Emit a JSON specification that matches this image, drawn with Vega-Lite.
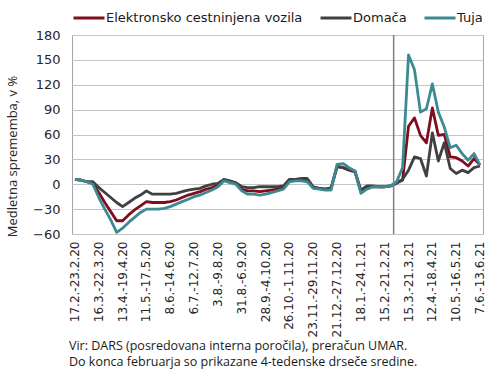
{
  "$schema": "https://vega.github.io/schema/vega-lite/v6.json",
  "width": 411,
  "height": 199,
  "autosize": {"type": "none"},
  "padding": {"left": 72, "top": 35, "right": 7, "bottom": 145},
  "config": {
    "font": "DejaVu Sans",
    "view": {"stroke": "#a6a6a6", "strokeWidth": 1},
    "axis": {"labelColor": "#262626", "titleColor": "#262626", "grid": true, "gridColor": "#c4c4c4", "domain": false, "ticks": false}
  },
  "title": {
    "text": ["Vir: DARS (posredovana interna poročila), preračun UMAR.", "Do konca februarja so prikazane 4-tedenske drseče sredine."],
    "orient": "bottom",
    "anchor": "start",
    "frame": "group",
    "font": "Open Sans",
    "fontSize": 12.5,
    "fontWeight": "normal",
    "color": "#1a1a1a",
    "lineHeight": 16.5,
    "offset": 3,
    "dx": -3
  },
  "data": {"name": "tedni"},
  "datasets": {
    "tedni": [
      {"teden": "17.2.-23.2.20", "Elektronsko cestninjena vozila": 6, "Domača": 6, "Tuja": 6},
      {"teden": "24.2.-1.3.20", "Elektronsko cestninjena vozila": 5, "Domača": 5, "Tuja": 5},
      {"teden": "2.3.-8.3.20", "Elektronsko cestninjena vozila": 3, "Domača": 3, "Tuja": 3},
      {"teden": "9.3.-15.3.20", "Elektronsko cestninjena vozila": 1, "Domača": 3, "Tuja": 0},
      {"teden": "16.3.-22.3.20", "Elektronsko cestninjena vozila": -10, "Domača": -4, "Tuja": -16},
      {"teden": "23.3.-29.3.20", "Elektronsko cestninjena vozila": -22, "Domača": -10, "Tuja": -30},
      {"teden": "30.3.-5.4.20", "Elektronsko cestninjena vozila": -33, "Domača": -16, "Tuja": -43},
      {"teden": "6.4.-12.4.20", "Elektronsko cestninjena vozila": -44, "Domača": -22, "Tuja": -58},
      {"teden": "13.4.-19.4.20", "Elektronsko cestninjena vozila": -44, "Domača": -27, "Tuja": -53},
      {"teden": "20.4.-26.4.20", "Elektronsko cestninjena vozila": -37, "Domača": -22, "Tuja": -46},
      {"teden": "27.4.-3.5.20", "Elektronsko cestninjena vozila": -31, "Domača": -17, "Tuja": -40},
      {"teden": "4.5.-10.5.20", "Elektronsko cestninjena vozila": -26, "Domača": -13, "Tuja": -34},
      {"teden": "11.5.-17.5.20", "Elektronsko cestninjena vozila": -21, "Domača": -8, "Tuja": -30},
      {"teden": "18.5.-24.5.20", "Elektronsko cestninjena vozila": -22, "Domača": -12, "Tuja": -30},
      {"teden": "25.5.-31.5.20", "Elektronsko cestninjena vozila": -22, "Domača": -12, "Tuja": -30},
      {"teden": "1.6.-7.6.20", "Elektronsko cestninjena vozila": -22, "Domača": -12, "Tuja": -29},
      {"teden": "8.6.-14.6.20", "Elektronsko cestninjena vozila": -21, "Domača": -12, "Tuja": -27},
      {"teden": "15.6.-21.6.20", "Elektronsko cestninjena vozila": -19, "Domača": -11, "Tuja": -24},
      {"teden": "22.6.-28.6.20", "Elektronsko cestninjena vozila": -16, "Domača": -9, "Tuja": -21},
      {"teden": "29.6.-5.7.20", "Elektronsko cestninjena vozila": -13, "Domača": -7, "Tuja": -18},
      {"teden": "6.7.-12.7.20", "Elektronsko cestninjena vozila": -11, "Domača": -6, "Tuja": -15},
      {"teden": "13.7.-19.7.20", "Elektronsko cestninjena vozila": -9, "Domača": -5, "Tuja": -13},
      {"teden": "20.7.-26.7.20", "Elektronsko cestninjena vozila": -6, "Domača": -2, "Tuja": -10},
      {"teden": "27.7.-2.8.20", "Elektronsko cestninjena vozila": -4, "Domača": 0, "Tuja": -7},
      {"teden": "3.8.-9.8.20", "Elektronsko cestninjena vozila": -1, "Domača": 1, "Tuja": -3},
      {"teden": "10.8.-16.8.20", "Elektronsko cestninjena vozila": 5, "Domača": 6, "Tuja": 4},
      {"teden": "17.8.-23.8.20", "Elektronsko cestninjena vozila": 3, "Domača": 4, "Tuja": 2},
      {"teden": "24.8.-30.8.20", "Elektronsko cestninjena vozila": 1, "Domača": 2, "Tuja": 0},
      {"teden": "31.8.-6.9.20", "Elektronsko cestninjena vozila": -6, "Domača": -3, "Tuja": -8},
      {"teden": "7.9.-13.9.20", "Elektronsko cestninjena vozila": -8, "Domača": -4, "Tuja": -12},
      {"teden": "14.9.-20.9.20", "Elektronsko cestninjena vozila": -8, "Domača": -4, "Tuja": -12},
      {"teden": "21.9.-27.9.20", "Elektronsko cestninjena vozila": -9, "Domača": -3, "Tuja": -13},
      {"teden": "28.9.-4.10.20", "Elektronsko cestninjena vozila": -8, "Domača": -3, "Tuja": -12},
      {"teden": "5.10.-11.10.20", "Elektronsko cestninjena vozila": -7, "Domača": -3, "Tuja": -10},
      {"teden": "12.10.-18.10.20", "Elektronsko cestninjena vozila": -6, "Domača": -3, "Tuja": -8},
      {"teden": "19.10.-25.10.20", "Elektronsko cestninjena vozila": -4, "Domača": -2, "Tuja": -6},
      {"teden": "26.10.-1.11.20", "Elektronsko cestninjena vozila": 5, "Domača": 6, "Tuja": 3},
      {"teden": "2.11.-8.11.20", "Elektronsko cestninjena vozila": 5, "Domača": 6, "Tuja": 4},
      {"teden": "9.11.-15.11.20", "Elektronsko cestninjena vozila": 6, "Domača": 7, "Tuja": 4},
      {"teden": "16.11.-22.11.20", "Elektronsko cestninjena vozila": 5, "Domača": 7, "Tuja": 3},
      {"teden": "23.11.-29.11.20", "Elektronsko cestninjena vozila": -4, "Domača": -3, "Tuja": -5},
      {"teden": "30.11.-6.12.20", "Elektronsko cestninjena vozila": -5, "Domača": -5, "Tuja": -6},
      {"teden": "7.12.-13.12.20", "Elektronsko cestninjena vozila": -6, "Domača": -6, "Tuja": -7},
      {"teden": "14.12.-20.12.20", "Elektronsko cestninjena vozila": -5, "Domača": -4, "Tuja": -7},
      {"teden": "21.12.-27.12.20", "Elektronsko cestninjena vozila": 21, "Domača": 22, "Tuja": 24},
      {"teden": "28.12.-3.1.21", "Elektronsko cestninjena vozila": 20, "Domača": 20, "Tuja": 25},
      {"teden": "4.1.-10.1.21", "Elektronsko cestninjena vozila": 17, "Domača": 18, "Tuja": 20},
      {"teden": "11.1.-17.1.21", "Elektronsko cestninjena vozila": 15, "Domača": 16, "Tuja": 16},
      {"teden": "18.1.-24.1.21", "Elektronsko cestninjena vozila": -9, "Domača": -7, "Tuja": -11},
      {"teden": "25.1.-31.1.21", "Elektronsko cestninjena vozila": -4, "Domača": -2, "Tuja": -6},
      {"teden": "1.2.-7.2.21", "Elektronsko cestninjena vozila": -3, "Domača": -2, "Tuja": -3},
      {"teden": "8.2.-14.2.21", "Elektronsko cestninjena vozila": -3, "Domača": -3, "Tuja": -3},
      {"teden": "15.2.-21.2.21", "Elektronsko cestninjena vozila": -3, "Domača": -3, "Tuja": -3},
      {"teden": "22.2.-28.2.21", "Elektronsko cestninjena vozila": -2, "Domača": -2, "Tuja": -2},
      {"teden": "1.3.-7.3.21", "Elektronsko cestninjena vozila": 2, "Domača": 1, "Tuja": 3},
      {"teden": "8.3.-14.3.21", "Elektronsko cestninjena vozila": 5, "Domača": 6, "Tuja": 20},
      {"teden": "15.3.-21.3.21", "Elektronsko cestninjena vozila": 70, "Domača": 17, "Tuja": 156},
      {"teden": "22.3.-28.3.21", "Elektronsko cestninjena vozila": 80, "Domača": 33, "Tuja": 138},
      {"teden": "29.3.-4.4.21", "Elektronsko cestninjena vozila": 59, "Domača": 31, "Tuja": 87},
      {"teden": "5.4.-11.4.21", "Elektronsko cestninjena vozila": 50, "Domača": 10, "Tuja": 91},
      {"teden": "12.4.-18.4.21", "Elektronsko cestninjena vozila": 92, "Domača": 62, "Tuja": 121},
      {"teden": "19.4.-25.4.21", "Elektronsko cestninjena vozila": 59, "Domača": 28, "Tuja": 87},
      {"teden": "26.4.-2.5.21", "Elektronsko cestninjena vozila": 60, "Domača": 50, "Tuja": 69},
      {"teden": "3.5.-9.5.21", "Elektronsko cestninjena vozila": 33, "Domača": 19, "Tuja": 44},
      {"teden": "10.5.-16.5.21", "Elektronsko cestninjena vozila": 32, "Domača": 13, "Tuja": 47},
      {"teden": "17.5.-23.5.21", "Elektronsko cestninjena vozila": 28, "Domača": 17, "Tuja": 37},
      {"teden": "24.5.-30.5.21", "Elektronsko cestninjena vozila": 22, "Domača": 14, "Tuja": 29},
      {"teden": "31.5.-6.6.21", "Elektronsko cestninjena vozila": 31, "Domača": 20, "Tuja": 37},
      {"teden": "7.6.-13.6.21", "Elektronsko cestninjena vozila": 23, "Domača": 22, "Tuja": 23}
    ]
  },
  "layer": [
    {
      "transform": [{"fold": ["Elektronsko cestninjena vozila", "Domača", "Tuja"], "as": ["serija", "vrednost"]}],
      "mark": {"type": "line", "strokeWidth": 2.8, "strokeJoin": "round"},
      "encoding": {
        "x": {
          "field": "teden", "type": "ordinal", "sort": null, "bandPosition": 0.5,
          "scale": {"type": "band", "paddingInner": 0, "paddingOuter": 0},
          "axis": {
            "title": null,
            "grid": false,
            "values": ["17.2.-23.2.20", "16.3.-22.3.20", "13.4.-19.4.20", "11.5.-17.5.20", "8.6.-14.6.20", "6.7.-12.7.20", "3.8.-9.8.20", "31.8.-6.9.20", "28.9.-4.10.20", "26.10.-1.11.20", "23.11.-29.11.20", "21.12.-27.12.20", "18.1.-24.1.21", "15.2.-21.2.21", "15.3.-21.3.21", "12.4.-18.4.21", "10.5.-16.5.21", "7.6.-13.6.21"],
            "labelAngle": -90,
            "labelAlign": "right",
            "labelBaseline": "middle",
            "labelFontSize": 12,
            "labelPadding": 7,
            "labelOverlap": false
          }
        },
        "y": {
          "field": "vrednost", "type": "quantitative",
          "scale": {"domain": [-60, 180], "nice": false, "zero": false},
          "axis": {
            "values": [-60, -30, 0, 30, 60, 90, 120, 150, 180],
            "title": "Medletna sprememba, v %",
            "titleFont": "Open Sans",
            "titleFontSize": 13,
            "titleFontWeight": "normal",
            "titleX": -60,
            "titleY": 121,
            "titleAlign": "center",
            "titleBaseline": "middle",
            "labelFontSize": 13,
            "labelPadding": 12
          }
        },
        "color": {
          "field": "serija", "type": "nominal", "sort": null,
          "scale": {"domain": ["Elektronsko cestninjena vozila", "Domača", "Tuja"], "range": ["#7f0d1b", "#404040", "#3a8b92"]},
          "legend": {
            "title": null,
            "orient": "none",
            "direction": "horizontal",
            "legendX": 0,
            "legendY": -34,
            "symbolType": "stroke",
            "symbolSize": 961,
            "symbolStrokeWidth": 3,
            "labelFontSize": 13,
            "labelLimit": 400,
            "labelColor": "#1a1a1a",
            "labelOffset": 0,
            "columnPadding": 11
          }
        }
      }
    },
    {
      "transform": [{"filter": "datum.teden === '1.3.-7.3.21'"}],
      "mark": {"type": "rule", "color": "#7f7f7f", "strokeWidth": 1.5},
      "encoding": {
        "x": {"field": "teden", "type": "ordinal", "sort": null, "bandPosition": 0}
      }
    }
  ]
}
